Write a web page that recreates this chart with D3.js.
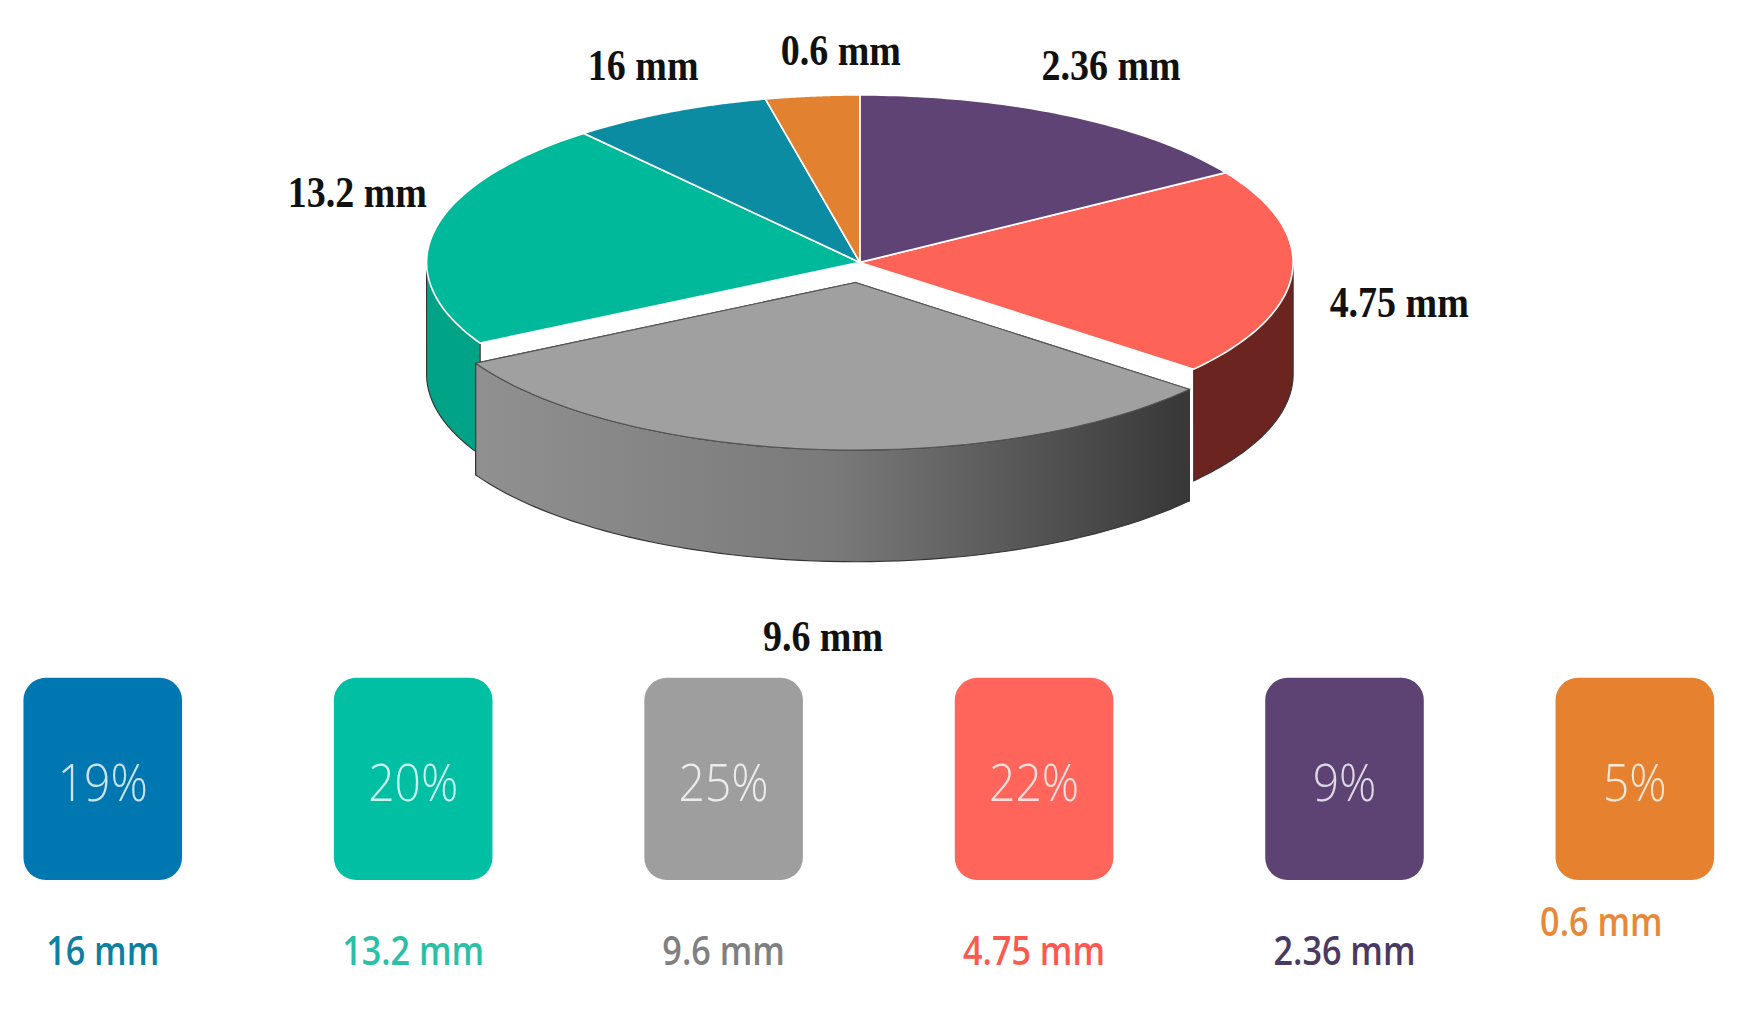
<!DOCTYPE html>
<html><head><meta charset="utf-8">
<script src="https://cdn.jsdelivr.net/npm/d3@7"></script>
<style>body{margin:0;background:#fff}</style></head>
<body><svg id="c" width="1751" height="1017"></svg>
<script>
// pie slices (clockwise from top)
const sliceNames = ["2.36 mm","4.75 mm","9.6 mm","13.2 mm","16 mm","0.6 mm"];
const sliceValues = [16, 20, 31, 22, 7.5, 3.5];
const sliceColors = ["#5f4374","#fe6358","#a0a0a0","#00b99b","#0b8ca2","#e2812f"];
const sideColors  = ["#3c2a4a","#6b2420","#808080","#00a386","#07606f","#9a5520"];
// legend
const legendNames = ["16 mm","13.2 mm","9.6 mm","4.75 mm","2.36 mm","0.6 mm"];
const legendPct = [19, 20, 25, 22, 9, 5];
const legendColors = ["#0077b1","#00bfa2","#9e9e9e","#ff655a","#5d4374","#e5812f"];
const legendTextColors = ["#0d7fa0","#2bbfa6","#808080","#fc5a50","#4a3a63","#e8883a"];

const svg = d3.select("#c");
const g = svg.append("g").attr("transform","scale(1.1167)");
const defs = svg.append("defs");
const gr = defs.append("linearGradient").attr("id","gg").attr("gradientUnits","userSpaceOnUse")
  .attr("x1",430).attr("x2",1060).attr("y1",0).attr("y2",0);
gr.append("stop").attr("offset",0).attr("stop-color","#909090");
gr.append("stop").attr("offset",0.5).attr("stop-color","#7a7a7a");
gr.append("stop").attr("offset",1).attr("stop-color","#383838");

const cx=770, cy=235, rx=388, ry=150, depth=100;
const pie = d3.pie().sort(null).value(d=>d)(sliceValues);
const P = (a,r,ox,oy)=>[cx+ox+r*rx*Math.sin(a), cy+oy-r*ry*Math.cos(a)];
function offs(i){ return i===2 ? [-4,18] : [0,0]; }
function topPath(i){
  const s=pie[i],[ox,oy]=offs(i); const n=60; const pts=[P(0,0,ox,oy)];
  for(let k=0;k<=n;k++){const a=s.startAngle+(s.endAngle-s.startAngle)*k/n; pts.push(P(a,1,ox,oy));}
  return "M"+pts.map(p=>p.join(",")).join("L")+"Z";
}
function sidePath(i){
  const s=pie[i],[ox,oy]=offs(i);
  const a0=Math.max(s.startAngle,Math.PI/2), a1=Math.min(s.endAngle,3*Math.PI/2);
  if(a1<=a0) return null;
  const n=60, up=[], dn=[];
  for(let k=0;k<=n;k++){const a=a0+(a1-a0)*k/n; const q=P(a,1,ox,oy); up.push(q); dn.push([q[0],q[1]+depth]);}
  return "M"+up.concat(dn.reverse()).map(p=>p.join(",")).join("L")+"Z";
}
const order=[3,1,0,4,5];
order.forEach(i=>{const p=sidePath(i); if(p) g.append("path").attr("d",p).attr("fill",sideColors[i]).attr("stroke","#333").attr("stroke-width",1);});
order.forEach(i=>g.append("path").attr("d",topPath(i)).attr("fill",sliceColors[i]).attr("stroke","#fff").attr("stroke-width",1.5));
// gray exploded slice: cut faces, side, top
{
  const s=pie[2],[ox,oy]=offs(2);
  const c=P(0,0,ox,oy);
  [s.startAngle,s.endAngle].forEach(a=>{
    const e=P(a,1,ox,oy);
    g.append("path").attr("d",`M${c[0]},${c[1]}L${e[0]},${e[1]}L${e[0]},${e[1]+depth}L${c[0]},${c[1]+depth}Z`)
     .attr("fill","#6e6e6e").attr("stroke","#333");
  });
}
g.append("path").attr("d",sidePath(2)).attr("fill","url(#gg)").attr("stroke","#333").attr("stroke-width",1);
g.append("path").attr("d",topPath(2)).attr("fill",sliceColors[2]).attr("stroke","#555").attr("stroke-width",1);

const labelPos = {"2.36 mm":[995,72],"4.75 mm":[1253,284],"9.6 mm":[737,583],"13.2 mm":[320,185],"16 mm":[576,72],"0.6 mm":[753,58]};
sliceNames.forEach(nm=>{
  g.append("text").attr("x",labelPos[nm][0]).attr("y",labelPos[nm][1]).attr("text-anchor","middle")
   .attr("font-family","Liberation Serif, serif").attr("font-weight","bold").attr("font-size",40)
   .attr("transform",`translate(${labelPos[nm][0]*0.15},0) scale(0.85,1)`)
   .attr("fill","#111").text(nm);
});

const boxX = [92,370,648,926,1204,1464];
legendNames.forEach((nm,i)=>{
  const x=boxX[i];
  g.append("rect").attr("x",x-71).attr("y",607).attr("width",142).attr("height",181).attr("rx",20)
   .attr("fill",legendColors[i]);
  g.append("text").attr("x",x).attr("y",717).attr("text-anchor","middle")
   .attr("font-family","Open Sans, sans-serif").attr("font-weight",300).attr("font-size",46)
   .attr("transform",`translate(${x*0.1},0) scale(0.9,1)`)
   .attr("fill","rgba(255,255,255,0.8)").text(legendPct[i]+"%");
  const lx=x-(i===5?30:0);
  g.append("text").attr("x",lx).attr("y",i===5?838:864).attr("text-anchor","middle")
   .attr("font-family","Open Sans, sans-serif").attr("font-weight",600).attr("font-size",36)
   .attr("transform",`translate(${lx*0.15},0) scale(0.85,1)`)
   .attr("fill",legendTextColors[i]).text(nm);
});
</script></body></html>
